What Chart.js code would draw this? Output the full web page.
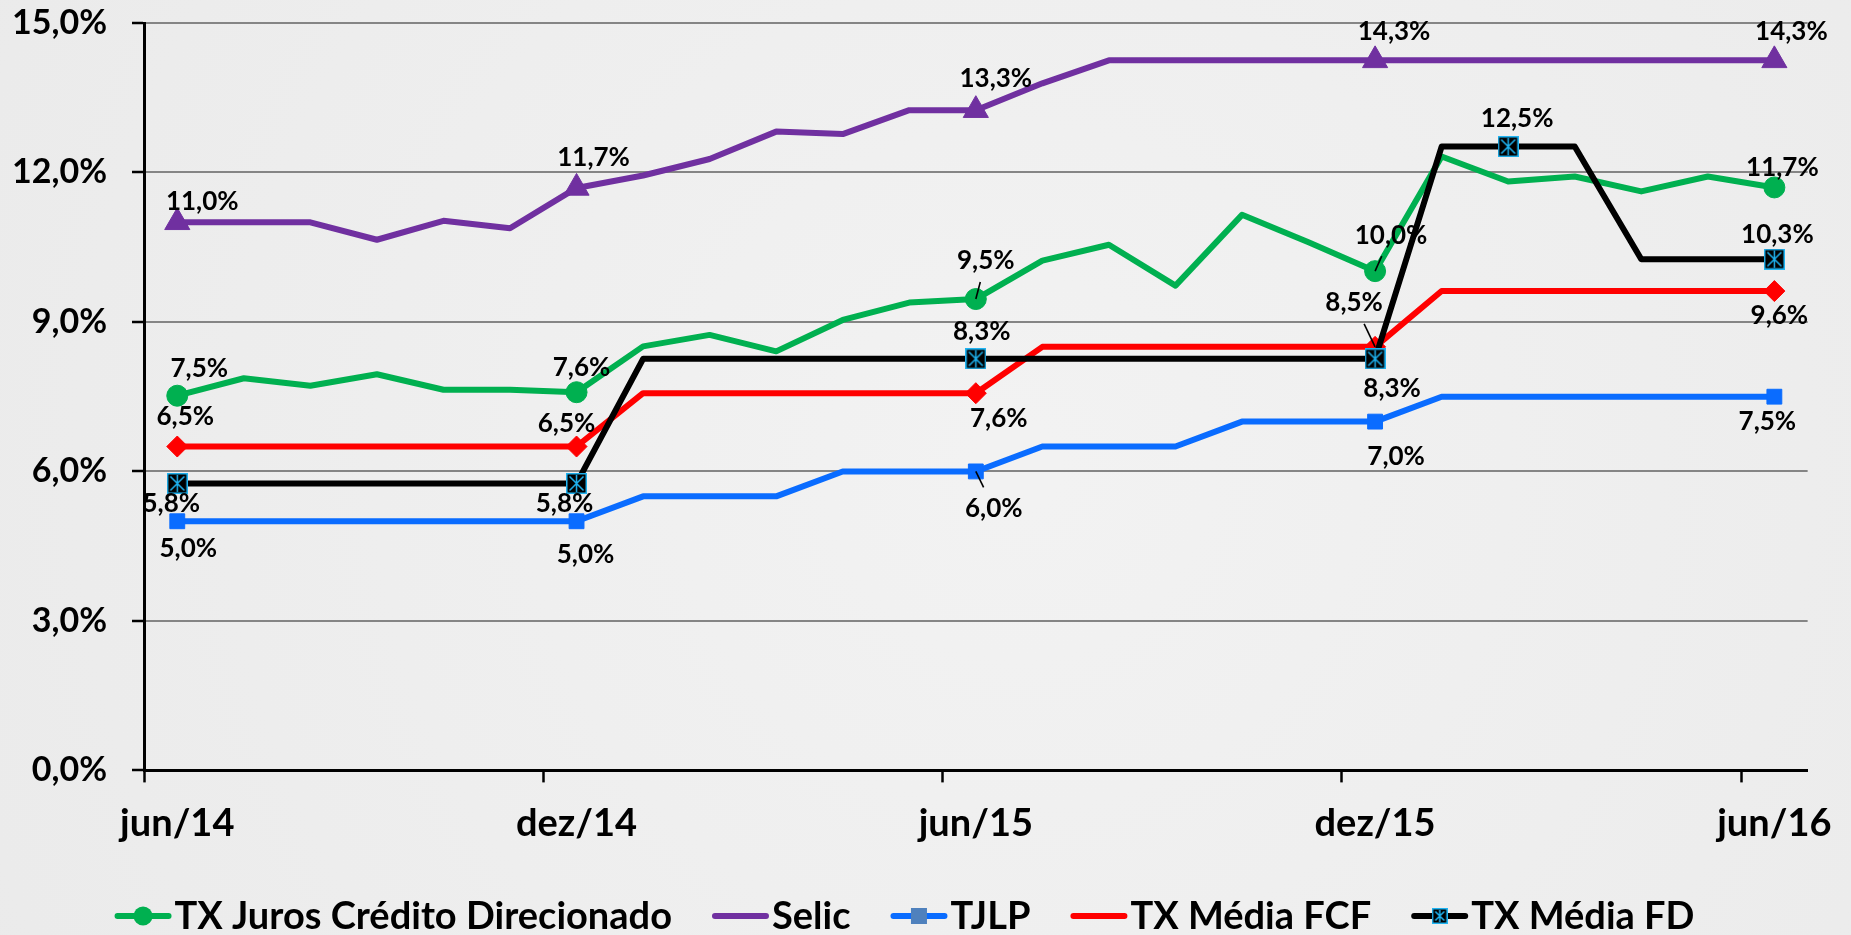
<!DOCTYPE html>
<html><head><meta charset="utf-8">
<script src="https://cdn.jsdelivr.net/npm/chart.js@4.4.1/dist/chart.umd.min.js"></script>
<style>
html,body{margin:0;padding:0;background:#ededed;overflow:hidden;}
#wrap{width:1851px;height:935px;position:relative;}
</style></head><body>
<div id="wrap"><canvas id="c"></canvas></div>
<script>
// ---------- DATA ----------
const categories = ['jun/14','jul/14','ago/14','set/14','out/14','nov/14','dez/14','jan/15','fev/15','mar/15','abr/15','mai/15','jun/15','jul/15','ago/15','set/15','out/15','nov/15','dez/15','jan/16','fev/16','mar/16','abr/16','mai/16','jun/16'];
const yTickValues = [0, 3, 6, 9, 12, 15];
const seriesNames = ['TX Juros Crédito Direcionado','Selic','TJLP','TX Média FCF','TX Média FD'];
const txJurosDirecionado = [7.52,7.87,7.72,7.95,7.64,7.64,7.59,8.51,8.74,8.41,9.04,9.39,9.46,10.23,10.55,9.73,11.15,10.60,10.02,12.32,11.82,11.92,11.62,11.92,11.70];
const selic = [11.00,11.00,11.00,10.65,11.03,10.88,11.69,11.94,12.27,12.82,12.77,13.25,13.25,13.79,14.25,14.25,14.25,14.25,14.25,14.25,14.25,14.25,14.25,14.25,14.25];
const tjlp = [5.0,5.0,5.0,5.0,5.0,5.0,5.0,5.5,5.5,5.5,6.0,6.0,6.0,6.5,6.5,6.5,7.0,7.0,7.0,7.5,7.5,7.5,7.5,7.5,7.5];
const txMediaFCF = [6.50,6.50,6.50,6.50,6.50,6.50,6.50,7.57,7.57,7.57,7.57,7.57,7.57,8.50,8.50,8.50,8.50,8.50,8.50,9.62,9.62,9.62,9.62,9.62,9.62];
const txMediaFD = [5.76,5.76,5.76,5.76,5.76,5.76,5.76,8.26,8.26,8.26,8.26,8.26,8.26,8.26,8.26,8.26,8.26,8.26,8.26,12.52,12.52,12.52,10.26,10.26,10.26];

// ---------- STYLE ----------
const FONT = 'Lato';
const colors = ['#00b050','#7030a0','#0a6cff','#ff0000','#000000'];
const markedPoints = [[0,6,12,18,24],[0,6,12,18,24],[0,6,12,18,24],[0,6,12,18,24],[0,6,12,18,20,24]];
// label placement (pixel offsets from the point), styling only
const labelSpecs = [
  [{i:0,dx:22,dy:-27},{i:6,dx:5,dy:-25},{i:12,dx:10,dy:-38,leader:true},{i:18,dx:16,dy:-36,leader:true},{i:24,dx:8,dy:-20}],
  [{i:0,dx:25,dy:-21},{i:6,dx:17,dy:-30},{i:12,dx:20,dy:-32},{i:18,dx:19,dy:-29},{i:24,dx:17,dy:-29}],
  [{i:0,dx:11,dy:27},{i:6,dx:9,dy:33},{i:12,dx:18,dy:37,leader:true},{i:18,dx:21,dy:35},{i:24,dx:-7,dy:25}],
  [{i:0,dx:8,dy:-30},{i:6,dx:-10,dy:-23},{i:12,dx:23,dy:25},{i:18,dx:-21,dy:-44,leader:true},{i:24,dx:5,dy:25}],
  [{i:0,dx:-6,dy:20},{i:6,dx:-12,dy:20},{i:12,dx:6,dy:-27},{i:18,dx:17,dy:30},{i:20,dx:9,dy:-28},{i:24,dx:3,dy:-25}]
];

function fmtPct(v){ return v.toFixed(1).replace('.', ',') + '%'; }

function starBox(size){
  const c = document.createElement('canvas');
  c.width = size; c.height = size;
  const g = c.getContext('2d');
  g.fillStyle = '#000'; g.fillRect(0,0,size,size);
  g.strokeStyle = '#1fb4f2'; g.lineWidth = 1.5;
  g.strokeRect(0.75,0.75,size-1.5,size-1.5);
  const m = 3.5;
  g.beginPath();
  g.moveTo(m,m); g.lineTo(size-m,size-m);
  g.moveTo(size-m,m); g.lineTo(m,size-m);
  g.moveTo(size/2,2); g.lineTo(size/2,size-2);
  g.stroke();
  return c;
}
const starMarker = starBox(21);
const starLegend = starBox(16);

const pointStyles = ['circle','triangle','rect','rectRot',starMarker];
const pointSizes = [10.5,14.5,10.5,10.5,10];

const bgPlugin = {
  id:'bg',
  beforeDraw(chart){
    const {ctx,width,height} = chart;
    ctx.save();
    const g = ctx.createRadialGradient(width*0.55,height*0.5,40,width*0.55,height*0.5,width*0.75);
    g.addColorStop(0,'#f2f2f2');
    g.addColorStop(1,'#e9e9e9');
    ctx.fillStyle = g;
    ctx.fillRect(0,0,width,height);
    ctx.restore();
  }
};

const valueLabels = {
  id:'valueLabels',
  afterDatasetsDraw(chart){
    const ctx = chart.ctx;
    ctx.save();
    ctx.font = 'bold 26px ' + FONT;
    ctx.fillStyle = '#000';
    ctx.textAlign = 'center';
    ctx.textBaseline = 'middle';
    chart.data.datasets.forEach((ds, di) => {
      const meta = chart.getDatasetMeta(di);
      (labelSpecs[di] || []).forEach(s => {
        const pt = meta.data[s.i];
        if (!pt) return;
        const cx = pt.x + s.dx, cy = pt.y + s.dy;
        const txt = fmtPct(ds.data[s.i]);
        if (s.leader) {
          const w = ctx.measureText(txt).width;
          const hw = w/2 + 4, hh = 21;
          const ddx = cx - pt.x, ddy = cy - pt.y;
          const k = Math.min(Math.abs(ddx) > 0 ? hw/Math.abs(ddx) : 1e9, Math.abs(ddy) > 0 ? hh/Math.abs(ddy) : 1e9);
          const t = 1 - k;
          if (t > 0) {
            ctx.beginPath();
            ctx.strokeStyle = '#000';
            ctx.lineWidth = 1.6;
            ctx.moveTo(pt.x, pt.y);
            ctx.lineTo(pt.x + ddx*t, pt.y + ddy*t);
            ctx.stroke();
          }
        }
        ctx.fillText(txt, cx, cy);
      });
    });
    ctx.restore();
  }
};

const legendSymbols = [
  {marker:'circle', color:'#00b050'},
  {marker:null},
  {marker:'square', color:'#4f81bd'},
  {marker:null},
  {marker:'star'}
];
const customLegend = {
  id:'customLegend',
  afterDraw(chart){
    const ctx = chart.ctx;
    ctx.save();
    ctx.font = 'bold 38px ' + FONT;
    ctx.textBaseline = 'middle';
    ctx.textAlign = 'left';
    const symW = 57, gapT = 3, gapItem = 40;
    const dss = chart.data.datasets;
    const widths = dss.map(d => ctx.measureText(d.label).width);
    let total = 0;
    widths.forEach(w => total += symW + gapT + w);
    total += gapItem * (dss.length - 1);
    let x = 904.5 - total/2;
    const y = 916;
    dss.forEach((d, i) => {
      const col = d.borderColor;
      ctx.strokeStyle = col;
      ctx.lineWidth = 6;
      ctx.lineCap = 'round';
      ctx.beginPath();
      ctx.moveTo(x + 3, y); ctx.lineTo(x + symW - 3, y);
      ctx.stroke();
      const mx = x + symW/2;
      const sym = legendSymbols[i];
      if (sym.marker === 'circle') {
        ctx.fillStyle = sym.color;
        ctx.beginPath(); ctx.arc(mx, y, 9.5, 0, Math.PI*2); ctx.fill();
      } else if (sym.marker === 'square') {
        ctx.fillStyle = sym.color;
        ctx.fillRect(mx - 8, y - 8, 16, 16);
      } else if (sym.marker === 'star') {
        ctx.drawImage(starLegend, mx - 8, y - 8);
      }
      ctx.fillStyle = '#000';
      ctx.fillText(d.label, x + symW + gapT, y + 1);
      x += symW + gapT + widths[i] + gapItem;
    });
    ctx.restore();
  }
};

const seriesData = [txJurosDirecionado, selic, tjlp, txMediaFCF, txMediaFD];

function build(){
  Chart.defaults.font.family = FONT;
  Chart.defaults.font.weight = 'bold';
  Chart.defaults.color = '#000';
  const datasets = seriesData.map((arr, di) => ({
    label: seriesNames[di],
    data: arr,
    borderColor: colors[di],
    backgroundColor: colors[di],
    borderWidth: 6,
    borderJoinStyle: 'round',
    tension: 0,
    fill: false,
    order: 5 - di,
    pointStyle: pointStyles[di],
    pointBackgroundColor: colors[di],
    pointBorderColor: colors[di],
    pointBorderWidth: 1,
    pointRadius: ctx => markedPoints[di].includes(ctx.dataIndex) ? pointSizes[di] : 0,
    pointHoverRadius: ctx => markedPoints[di].includes(ctx.dataIndex) ? pointSizes[di] : 0
  }));
  new Chart(document.getElementById('c'), {
    type: 'line',
    data: { labels: categories, datasets },
    plugins: [bgPlugin, valueLabels, customLegend],
    options: {
      responsive: true,
      maintainAspectRatio: false,
      animation: false,
      events: [],
      layout: { padding: { top: 23, right: 24, bottom: 69, left: 0 } },
      plugins: { legend: { display: false }, tooltip: { enabled: false } },
      scales: {
        x: {
          type: 'category',
          offset: true,
          grid: {
            offset: true,
            drawOnChartArea: false,
            drawTicks: true,
            tickLength: 12,
            tickWidth: 2.5,
            tickColor: ctx => (typeof ctx.index === 'number' && ctx.index % 6 === 0) ? '#000' : 'rgba(0,0,0,0)'
          },
          border: { display: true, color: '#000', width: 3 },
          ticks: {
            autoSkip: false,
            maxRotation: 0,
            minRotation: 0,
            padding: 19,
            color: '#000',
            font: { size: 38, weight: 'bold', family: FONT },
            callback: (val, idx) => idx % 6 === 0 ? categories[idx] : ''
          }
        },
        y: {
          min: 0,
          max: 15,
          afterBuildTicks: scale => { scale.ticks = yTickValues.map(v => ({ value: v })); },
          afterFit: scale => { scale.width = 144; scale.paddingTop = 0; scale.paddingBottom = 0; },
          grid: {
            color: '#858585',
            lineWidth: 2,
            drawTicks: true,
            tickLength: 12,
            tickWidth: 2.5,
            tickColor: '#000'
          },
          border: { display: true, color: '#000', width: 3 },
          ticks: {
            padding: 25,
            color: '#000',
            font: { size: 34, weight: 'bold', family: FONT },
            callback: v => fmtPct(v)
          }
        }
      }
    }
  });
}

if (document.fonts && document.fonts.load) {
  Promise.all([
    document.fonts.load('bold 38px ' + FONT),
    document.fonts.load('bold 26px ' + FONT)
  ]).then(build, build);
} else {
  build();
}
</script>
</body></html>
